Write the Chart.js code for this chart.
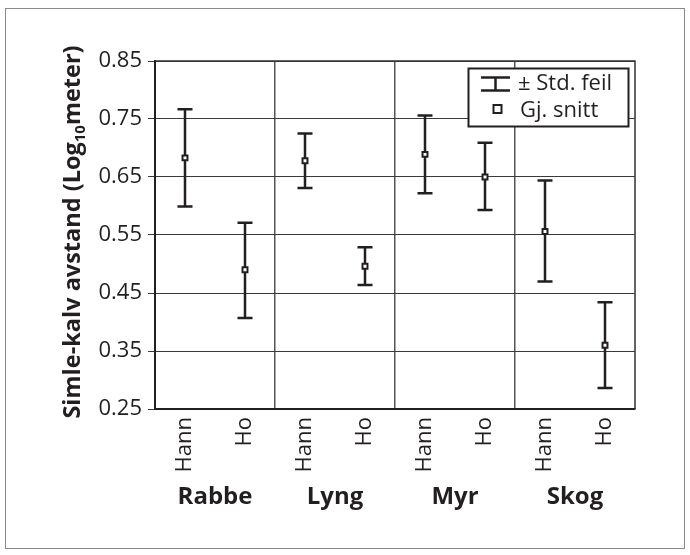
<!DOCTYPE html>
<html>
<head>
<meta charset="utf-8">
<script src="https://cdn.jsdelivr.net/npm/chart.js@4"></script>
<style>
  body { margin: 0; background: #fff; }
  #wrap { width: 690px; height: 555px; }
</style>
</head>
<body>
<div id="wrap"><canvas id="chart" width="690" height="555"></canvas></div>
<script>
// categories: two sexes for each habitat
const groups = ['Rabbe', 'Lyng', 'Myr', 'Skog'];
const labels = ['Hann', 'Ho', 'Hann', 'Ho', 'Hann', 'Ho', 'Hann', 'Ho'];

// mean and +/- std. error limits (Log10 meter)
const means = [0.683, 0.490, 0.678, 0.496, 0.689, 0.650, 0.556, 0.360];
const upper = [0.767, 0.571, 0.725, 0.529, 0.756, 0.709, 0.644, 0.434];
const lower = [0.599, 0.407, 0.631, 0.464, 0.622, 0.593, 0.470, 0.286];

const yMin = 0.25, yMax = 0.85, yStep = 0.1;

const FONT = '"Open Sans", "DejaVu Sans", sans-serif';
const INK = '#231f20';

// error bars drawn under the mean markers
const errorBars = {
    id: 'errorBars',
    beforeDatasetsDraw(chart) {
        const ctx = chart.ctx;
        const x = chart.scales.x, y = chart.scales.y;
        ctx.save();
        ctx.strokeStyle = INK;
        ctx.lineWidth = 2.5;
        for (let i = 0; i < means.length; i++) {
            const px = x.getPixelForValue(i);
            const top = y.getPixelForValue(upper[i]);
            const bot = y.getPixelForValue(lower[i]);
            ctx.beginPath();
            ctx.moveTo(px, top); ctx.lineTo(px, bot);
            ctx.moveTo(px - 7.5, top); ctx.lineTo(px + 7.5, top);
            ctx.moveTo(px - 7.5, bot); ctx.lineTo(px + 7.5, bot);
            ctx.stroke();
        }
        ctx.restore();
    }
};

// frame, y title, group names and legend box
const decorations = {
    id: 'decorations',
    beforeDraw(chart) {
        const ctx = chart.ctx;
        ctx.save();
        ctx.fillStyle = '#fff';
        ctx.fillRect(0, 0, chart.width, chart.height);
        ctx.strokeStyle = '#8a8a8a';
        ctx.lineWidth = 1;
        ctx.strokeRect(5.5, 8.5, 679, 540);
        ctx.restore();
    },
    afterDraw(chart) {
        const ctx = chart.ctx;
        const area = chart.chartArea;
        const x = chart.scales.x;
        ctx.save();

        // plot frame top/right
        ctx.strokeStyle = '#333';
        ctx.lineWidth = 1.5;
        ctx.beginPath();
        ctx.moveTo(area.left, area.top); ctx.lineTo(area.right, area.top);
        ctx.lineTo(area.right, area.bottom);
        ctx.stroke();

        // y axis title with subscript
        ctx.fillStyle = INK;
        ctx.textBaseline = 'alphabetic';
        ctx.translate(80, (area.top + area.bottom) / 2 - 3);
        ctx.rotate(-Math.PI / 2);
        const bold = 'bold 23.5px ' + FONT;
        const sub = 'bold 15px ' + FONT;
        const p1 = 'Simle-kalv avstand (Log', p2 = '10', p3 = 'meter)';
        ctx.font = bold; const w1 = ctx.measureText(p1).width, w3 = ctx.measureText(p3).width;
        ctx.font = sub; const w2 = ctx.measureText(p2).width;
        let sx = -(w1 + w2 + w3) / 2;
        ctx.font = bold; ctx.textAlign = 'left';
        ctx.fillText(p1, sx, 0); sx += w1;
        ctx.font = sub; ctx.fillText(p2, sx, 5); sx += w2;
        ctx.font = bold; ctx.fillText(p3, sx, 0);
        ctx.setTransform(1, 0, 0, 1, 0, 0);

        // group names under each pair
        ctx.font = 'bold 24px ' + FONT;
        ctx.textAlign = 'center';
        ctx.textBaseline = 'middle';
        groups.forEach((g, k) => {
            const cx = (x.getPixelForValue(2 * k) + x.getPixelForValue(2 * k + 1)) / 2;
            ctx.fillText(g, cx, 497);
        });

        // legend box
        const lx = 468.5, ly = 68.5, lw = 160, lh = 58;
        ctx.fillStyle = '#fff';
        ctx.fillRect(lx, ly, lw, lh);
        ctx.strokeStyle = INK;
        ctx.lineWidth = 2;
        ctx.strokeRect(lx, ly, lw, lh);

        ctx.lineWidth = 2.5;
        ctx.beginPath();
        ctx.moveTo(481, 77.5); ctx.lineTo(510, 77.5);
        ctx.moveTo(495.5, 77.5); ctx.lineTo(495.5, 90.5);
        ctx.moveTo(481, 90.5); ctx.lineTo(510, 90.5);
        ctx.stroke();

        ctx.lineWidth = 2;
        ctx.fillStyle = '#fff';
        ctx.fillRect(493.5, 105, 8, 8);
        ctx.strokeRect(493.5, 105, 8, 8);

        ctx.fillStyle = INK;
        ctx.font = '22px ' + FONT;
        ctx.textAlign = 'left';
        ctx.textBaseline = 'middle';
        ctx.fillText('\u00b1 Std. feil', 518, 84);
        ctx.fillText('Gj. snitt', 520, 111);
        ctx.restore();
    }
};

new Chart(document.getElementById('chart'), {
    type: 'line',
    data: {
        labels: labels,
        datasets: [{
            label: 'Gj. snitt',
            data: means,
            showLine: false,
            pointStyle: 'rect',
            pointRadius: 3.5,
            pointBorderWidth: 2,
            pointBackgroundColor: '#fff',
            pointBorderColor: INK
        }]
    },
    options: {
        responsive: false,
        animation: false,
        layout: { padding: { left: 0, top: 61, right: 55, bottom: 0 } },
        plugins: {
            legend: { display: false },
            tooltip: { enabled: false }
        },
        scales: {
            x: {
                offset: true,
                afterFit: (s) => { s.height = 146; },
                grid: {
                    offset: true,
                    drawTicks: false,
                    lineWidth: 1.5,
                    color: (c) => (c.index % 2 === 0 ? '#555' : 'rgba(0,0,0,0)')
                },
                border: { color: INK, width: 2 },
                ticks: {
                    minRotation: 90,
                    maxRotation: 90,
                    autoSkip: false,
                    padding: 8,
                    color: INK,
                    font: { family: FONT, size: 22 }
                }
            },
            y: {
                min: yMin,
                max: yMax,
                afterFit: (s) => { s.width = 155; },
                afterBuildTicks: (s) => {
                    s.ticks = [];
                    for (let v = yMin; v <= yMax + 1e-9; v += yStep) s.ticks.push({ value: +v.toFixed(2) });
                },
                grid: { color: '#3a3a3a', lineWidth: 1, tickLength: 7 },
                border: { color: INK, width: 2 },
                ticks: {
                    padding: 6,
                    color: INK,
                    font: { family: FONT, size: 22 },
                    callback: (v) => v.toFixed(2)
                }
            }
        }
    },
    plugins: [errorBars, decorations]
});
</script>
</body>
</html>
